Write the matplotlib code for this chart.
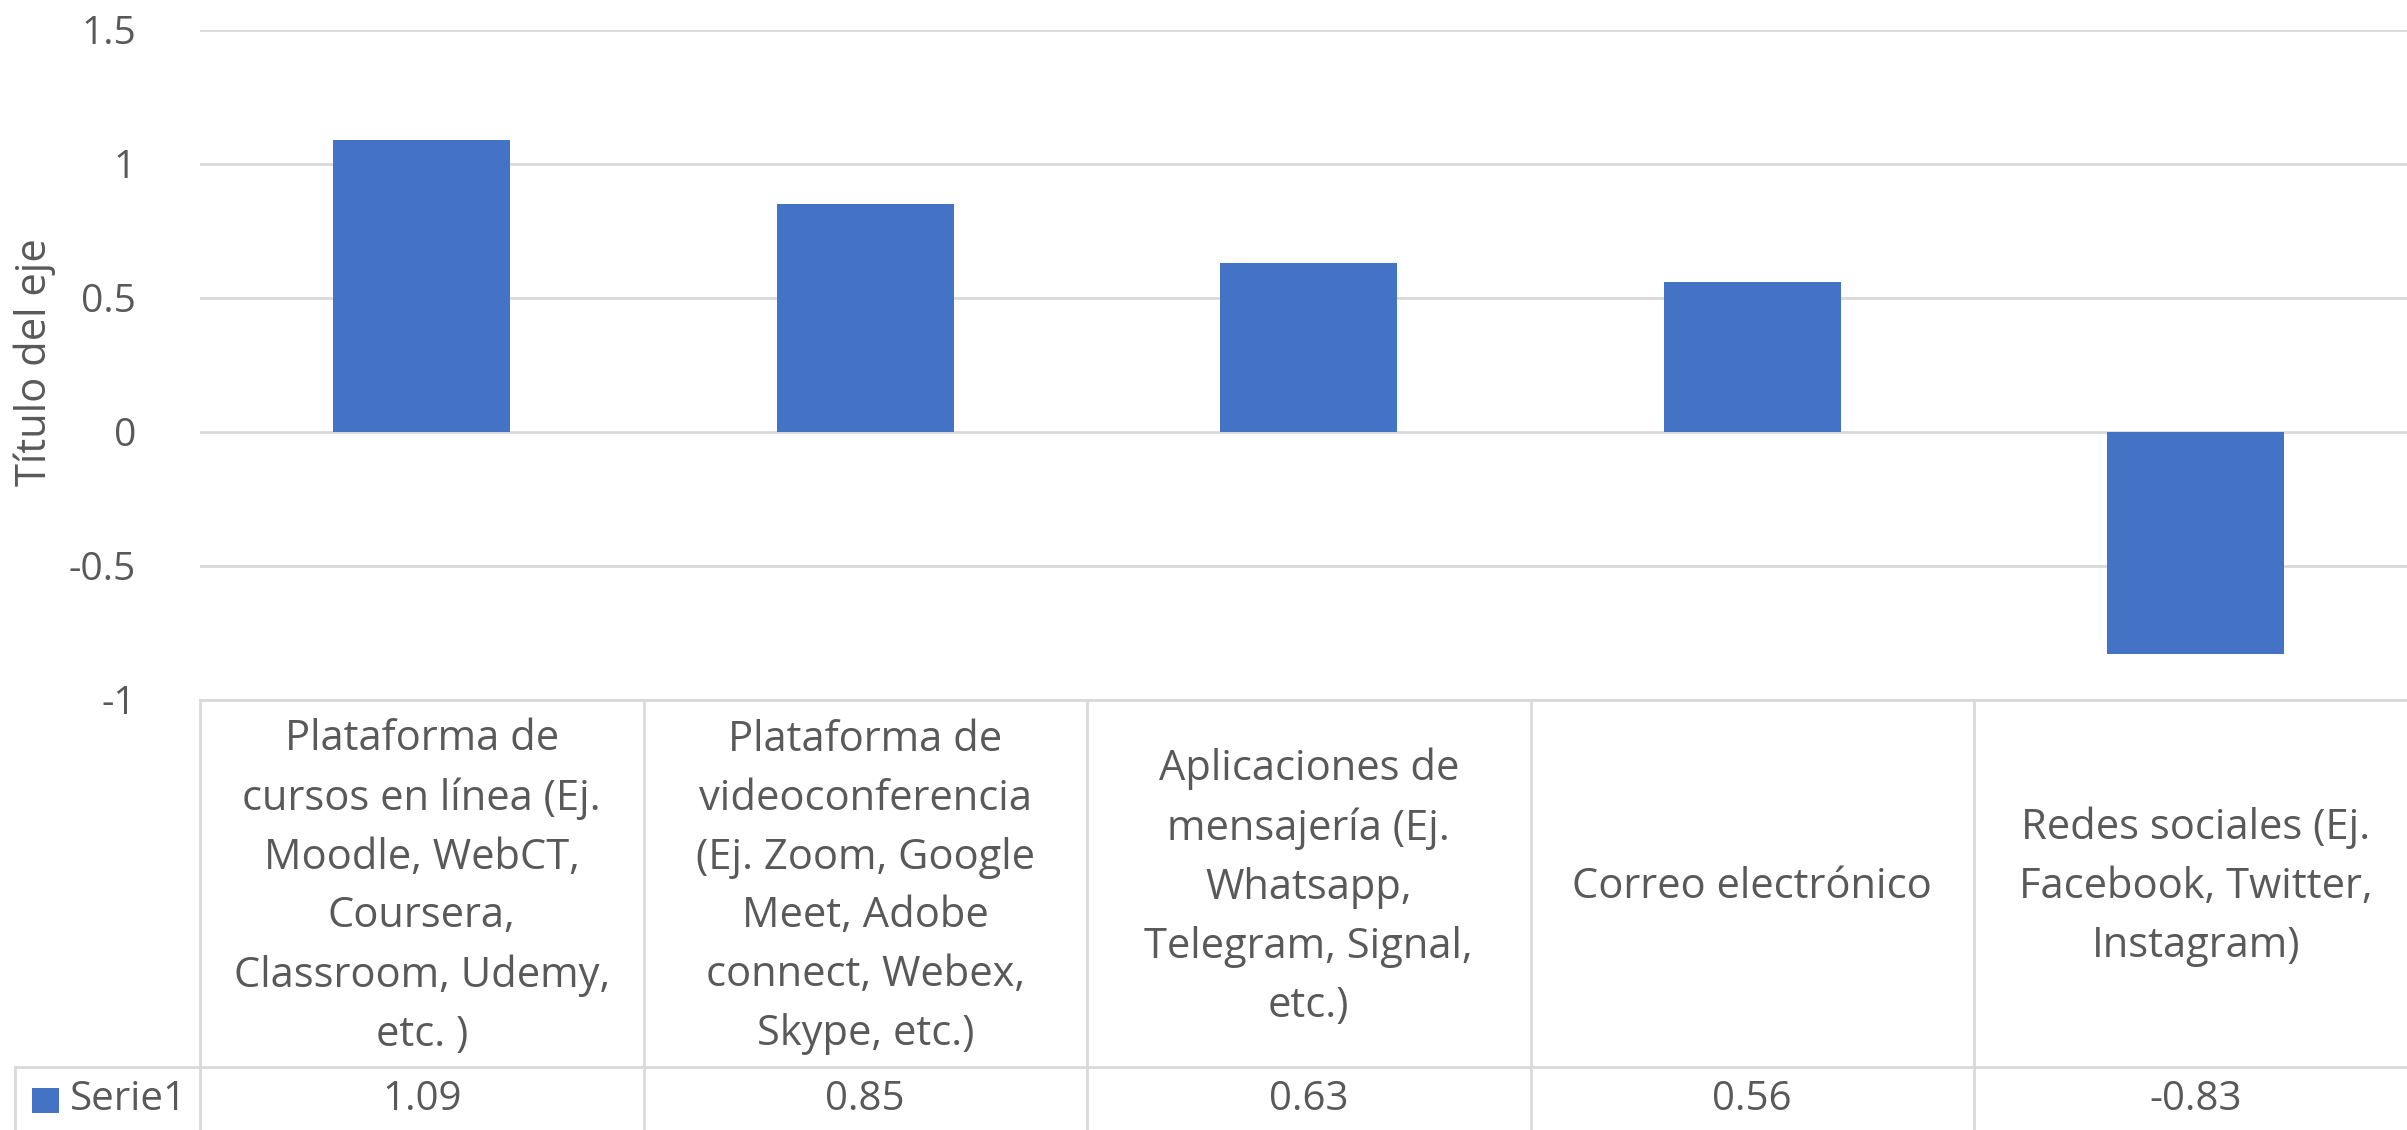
import matplotlib
matplotlib.use("Agg")
import matplotlib.pyplot as plt
from matplotlib.transforms import blended_transform_factory
from matplotlib.patches import Rectangle

categories = [
    "Plataforma de\ncursos en línea (Ej.\nMoodle, WebCT,\nCoursera,\nClassroom, Udemy,\netc. )",
    "Plataforma de\nvideoconferencia\n(Ej. Zoom, Google\nMeet, Adobe\nconnect, Webex,\nSkype, etc.)",
    "Aplicaciones de\nmensajería (Ej.\nWhatsapp,\nTelegram, Signal,\netc.)",
    "Correo electrónico",
    "Redes sociales (Ej.\nFacebook, Twitter,\nInstagram)",
]
values = [1.09, 0.85, 0.63, 0.56, -0.83]
value_labels = ["1.09", "0.85", "0.63", "0.56", "-0.83"]
series_name = "Serie1"
y_ticks = [-1, -0.5, 0, 0.5, 1, 1.5]
y_tick_labels = ["-1", "-0.5", "0", "0.5", "1", "1.5"]
y_title = "Título del eje"

plt.rcParams['font.family'] = ['Open Sans', 'DejaVu Sans']
TXT = "#595959"
GRID = "#D9D9D9"
BAR = "#4472C4"

W, H = 2407, 1130
fig = plt.figure(figsize=(W / 100, H / 100), dpi=100)

def fy(py):
    return 1 - py / H

def fx(px):
    return px / W

left_px, right_px = 200, 2417.5
top_px, bot_px = 30, 700
ax = fig.add_axes([fx(left_px), fy(bot_px), fx(right_px - left_px), (bot_px - top_px) / H])
x = list(range(len(values)))
ax.bar(x, values, width=0.4, color=BAR, zorder=3)
ax.set_xlim(-0.5, len(values) - 0.5)
ax.set_ylim(-1, 1.5)
ax.set_yticks(y_ticks)
ax.set_yticklabels(y_tick_labels)
ax.set_xticks([])
ax.tick_params(axis='y', length=0, pad=46, labelsize=28, labelcolor=TXT)
ax.yaxis.grid(True, color=GRID, linewidth=2, zorder=0)
for s in ax.spines.values():
    s.set_visible(False)

fig.text(fx(35), fy(362), y_title, rotation=90, ha='center', va='center',
         fontsize=30, color=TXT)

tr = blended_transform_factory(ax.transData, fig.transFigure)
# table lines
row_sep = 1067
fig.add_artist(plt.Line2D([fx(left_px), 1], [fy(bot_px), fy(bot_px)], color=GRID, lw=2))
fig.add_artist(plt.Line2D([fx(15), 1], [fy(row_sep), fy(row_sep)], color=GRID, lw=2))
fig.add_artist(plt.Line2D([fx(15), fx(15)], [fy(row_sep), 0], color=GRID, lw=2))
for i in range(len(values) + 1):
    xb = i - 0.5
    ax.add_line(plt.Line2D([xb, xb], [fy(bot_px), 0], transform=tr, color=GRID, lw=2, clip_on=False))

for i, (cat, vl) in enumerate(zip(categories, value_labels)):
    ax.text(i, fy(887), cat, transform=tr, ha='center', va='center', fontsize=30,
            color=TXT, linespacing=1.53, clip_on=False)
    ax.text(i, fy(1100), vl, transform=tr, ha='center', va='center', fontsize=29,
            color=TXT, clip_on=False)

# legend key
fig.add_artist(Rectangle((fx(32), fy(1113)), fx(27), 25 / H, transform=fig.transFigure,
                         facecolor=BAR, edgecolor='none'))
fig.text(fx(70), fy(1100), series_name, ha='left', va='center', fontsize=29, color=TXT)

fig.savefig("out.png", dpi=100, facecolor='white')
